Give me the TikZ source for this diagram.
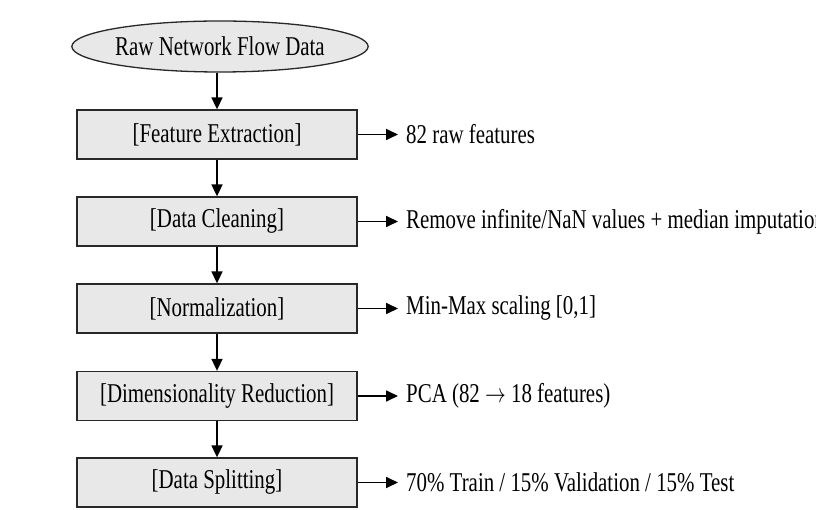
\documentclass[tikz,border=0pt]{standalone}
\usepackage{fontspec}
\setmainfont{Liberation Serif}
\usetikzlibrary{arrows.meta,shapes.geometric}
\definecolor{boxfill}{RGB}{232,232,232}
\definecolor{edge}{RGB}{40,40,40}
\newcommand{\tallt}[1]{\scalebox{1}[1.3]{#1}}
\begin{document}
\begin{tikzpicture}[x=1pt,y=-1pt,
  every node/.style={font=\fontsize{20.9}{24}\selectfont},
  stepbox/.style={draw=edge,line width=1.3pt,fill=boxfill,minimum width=280pt,minimum height=49pt,inner sep=0pt},
  startnode/.style={ellipse,draw=edge,line width=1.3pt,fill=boxfill,minimum width=286pt,minimum height=51pt,inner sep=0pt},
  note/.style={anchor=west,inner sep=0pt},
  flow/.style={line width=1.7pt,-{Triangle[length=12pt,width=11pt]}}]
\useasboundingbox[fill=white] (0,0) rectangle (816,510);
\node[startnode] (raw) at (220,46.5) {\tallt{Raw Network Flow Data}};
\node[stepbox] (fe) at (217,134.5) {\tallt{[Feature Extraction]}};
\node[stepbox] (dc) at (217,221.5) {\tallt{[Data Cleaning]}};
\node[stepbox] (no) at (217,308.5) {\tallt{[Normalization]}};
\node[stepbox] (dr) at (217,396) {\tallt{[Dimensionality Reduction]}};
\node[stepbox] (ds) at (217,482.5) {\tallt{[Data Splitting]}};
\node[note] (n1) at (406,134.5) {\tallt{82 raw features}};
\node[note] (n2) at (406,221.5) {\tallt{Remove infinite/NaN values + median imputation}};
\node[note] (n3) at (406,308.5) {\tallt{Min-Max scaling [0,1]}};
\node[note] (n4) at (406,396) {\tallt{PCA (82 $\rightarrow$ 18 features)}};
\node[note] (n5) at (406,482.5) {\tallt{70\% Train / 15\% Validation / 15\% Test}};
\draw[flow] (fe.north |- raw.south) -- (fe.north);
\draw[flow] (fe) -- (dc);
\draw[flow] (dc) -- (no);
\draw[flow] (no) -- (dr);
\draw[flow] (dr) -- (ds);
\foreach \a/\b in {fe/n1,dc/n2,no/n3,dr/n4,ds/n5}
  \draw[flow] (\a.east) -- ([xshift=-8pt]\b.west);
\end{tikzpicture}
\end{document}
